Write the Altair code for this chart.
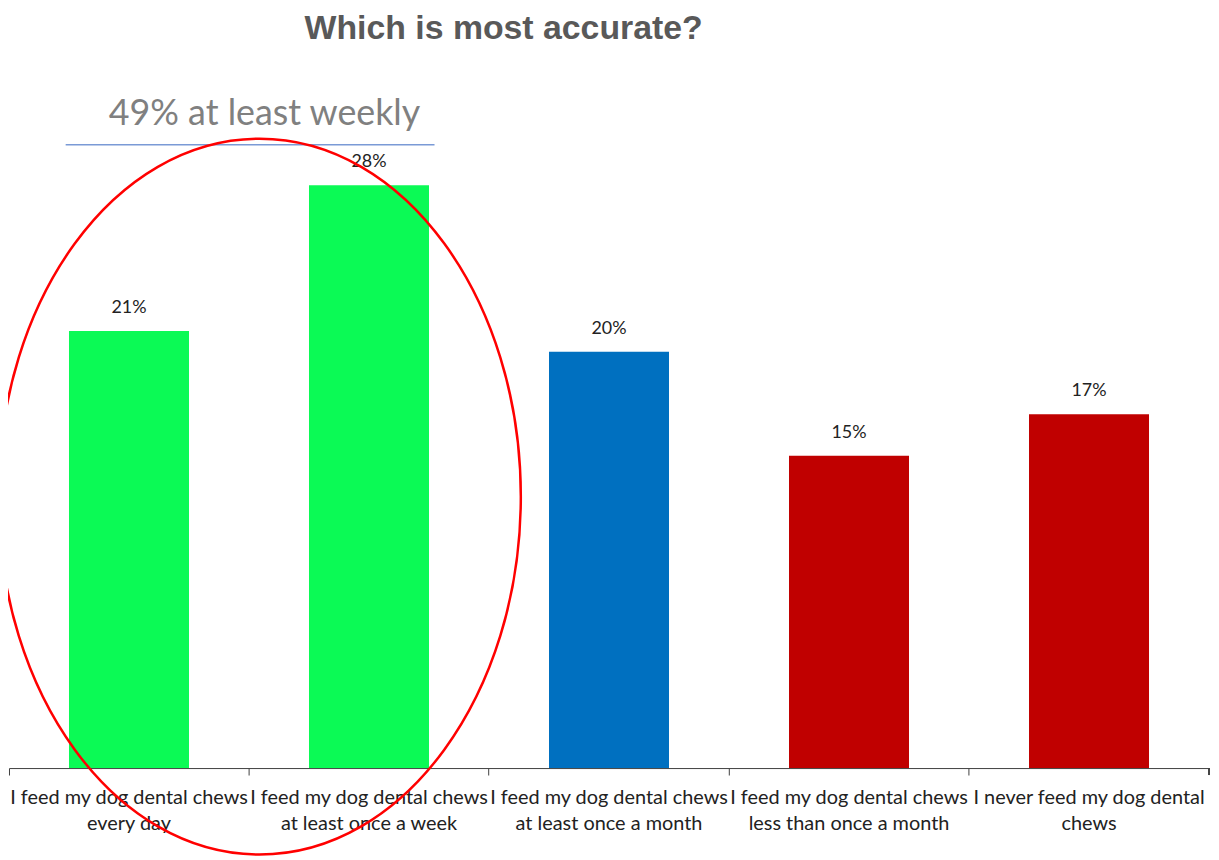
import altair as alt
import pandas as pd

categories = [
    "I feed my dog dental chews|every day",
    "I feed my dog dental chews|at least once a week",
    "I feed my dog dental chews|at least once a month",
    "I feed my dog dental chews|less than once a month",
    "I never feed my dog dental|chews",
]
values = [21, 28, 20, 15, 17]
colors = ["#0BFA55", "#0BFA55", "#0070C0", "#C00000", "#C00000"]
annotation_text = "49% at least weekly"
title_text = "Which is most accurate?"

W, H = 1207, 672

df = pd.DataFrame({
    "category": categories,
    "value": values,
    "color": colors,
    "label": [f"{v}%" for v in values],
})

x_enc = alt.X(
    "category:N",
    sort=categories,
    scale=alt.Scale(paddingInner=0, paddingOuter=0),
    axis=alt.Axis(
        title=None,
        labelExpr="split(datum.label, '|')",
        labelAngle=0,
        bandPosition=0,
        tickSize=7,
        labelPadding=13,
        labelFont="Lato",
        labelFontSize=20,
        labelColor="#222222",
        labelLineHeight=26,
        labelLimit=0,
        labelOverlap=False,
        labelBaseline="top",
        domainColor="#404040",
        tickColor="#404040",
        grid=False,
    ),
)
y_enc = alt.Y("value:Q", scale=alt.Scale(domain=[0, 32.1], nice=False, zero=True), axis=None)

bars = alt.Chart(df).mark_bar(width=alt.RelativeBandSize(0.5)).encode(
    x=x_enc, y=y_enc, color=alt.Color("color:N", scale=None)
)

labels = alt.Chart(df).mark_text(
    dy=-14, baseline="bottom", font="Lato", fontSize=18, color="#222222"
).encode(x=alt.X("category:N", sort=categories), y="value:Q", text="label:N")

end_tick = alt.Chart(df).mark_rule(color="#404040").encode(
    x=alt.value(W), y=alt.value(H), y2=alt.value(H + 7)
)

ann_df = pd.DataFrame({"text": [annotation_text]})
ann_text = alt.Chart(ann_df).mark_text(
    font="Lato", fontSize=36, color="#808080", baseline="middle", align="center"
).encode(x=alt.value(257), y=alt.value(14), text="text:N")

ann_rule = alt.Chart(ann_df).mark_rule(color="#7A9AD6", strokeWidth=1.5).encode(
    x=alt.value(57), x2=alt.value(428), y=alt.value(45)
)

ellipse_path = "M -0.73 0 A 0.73 1 0 1 1 0.73 0 A 0.73 1 0 1 1 -0.73 0 Z"
ellipse = alt.Chart(ann_df).mark_point(
    shape=ellipse_path, size=518400, filled=False, stroke="#FF0000",
    strokeWidth=2.5, opacity=1
).encode(x=alt.value(252), y=alt.value(399))

chart = alt.layer(bars, labels, end_tick, ann_rule, ann_text, ellipse).properties(
    width=W,
    height=H,
    title=alt.TitleParams(
        title_text, font="Liberation Sans", fontSize=34, fontWeight="bold",
        color="#595959", anchor="middle", dx=-106, offset=50,
    ),
    autosize=alt.AutoSizeParams(type="none"),
    padding={"left": 1, "top": 90, "right": 2, "bottom": 90},
).configure_view(stroke=None)

chart.save("out.html", embed_options={"renderer": "svg", "actions": False})
